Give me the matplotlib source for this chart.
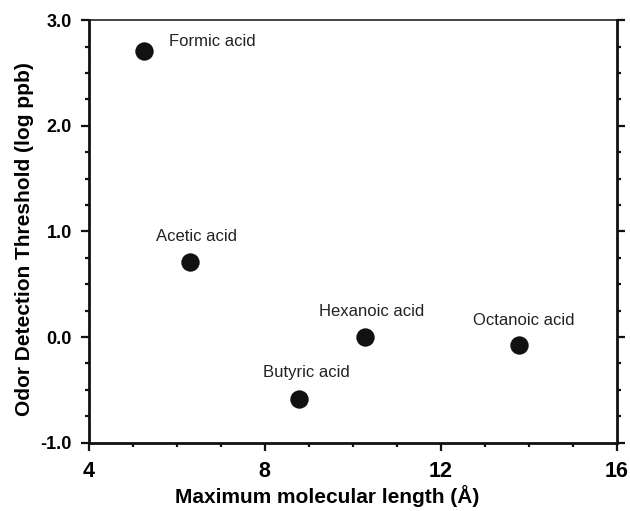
import matplotlib
matplotlib.use("Agg")
import matplotlib.pyplot as plt
from matplotlib.ticker import MultipleLocator

plt.rcParams['font.family'] = ['Liberation Sans', 'DejaVu Sans']

# values
acids = ['Formic acid', 'Acetic acid', 'Butyric acid', 'Hexanoic acid', 'Octanoic acid']
length = [5.26, 6.30, 8.79, 10.28, 13.79]
odt = [2.71, 0.71, -0.59, 0.0, -0.075]
# label offsets in points (dx, dy) and alignment
offsets = [(18, 6.5), (5, 18.5), (5.3, 19), (5, 18.5), (3, 18)]
aligns = ['left', 'center', 'center', 'center', 'center']

fig = plt.figure(figsize=(6.3, 5.11), dpi=100)
ax = fig.add_axes([0.1408, 0.1337, 0.8378, 0.8266])

ax.scatter(length, odt, s=175, color='#111111', zorder=3, linewidths=0)
for name, x, y, off, ha in zip(acids, length, odt, offsets, aligns):
    ax.annotate(name, (x, y), xytext=off, textcoords='offset points',
                ha=ha, va='center', fontsize=12, color='#222222')

ax.set_xlim(4, 16)
ax.set_ylim(-1, 3)
ax.xaxis.set_major_locator(MultipleLocator(4))
ax.xaxis.set_minor_locator(MultipleLocator(1))
ax.yaxis.set_major_locator(MultipleLocator(1))
ax.yaxis.set_minor_locator(MultipleLocator(0.25))
ax.yaxis.set_major_formatter(plt.FuncFormatter(lambda v, p: '%.1f' % v))

ax.tick_params(axis='both', which='both', direction='out', width=1.6, color='#111111')
ax.tick_params(axis='both', which='major', length=6)
ax.tick_params(axis='both', which='minor', length=3)
ax.tick_params(axis='y', which='both', right=True, labelright=False)
ax.tick_params(axis='y', which='major', labelsize=13, pad=6)
ax.tick_params(axis='x', which='major', labelsize=15.5, pad=7.5)
for lab in ax.get_xticklabels() + ax.get_yticklabels():
    lab.set_fontweight('bold')

for side in ['left', 'bottom', 'right']:
    ax.spines[side].set_linewidth(2)
    ax.spines[side].set_color('#111111')
ax.spines['top'].set_linewidth(1.1)
ax.spines['top'].set_color('#111111')

ax.set_xlabel('Maximum molecular length (Å)', fontsize=15, fontweight='bold',
              labelpad=2, x=0.4515)
ax.set_ylabel('Odor Detection Threshold (log ppb)', fontsize=15, fontweight='bold',
              labelpad=5, y=0.482)

fig.savefig('out.png', dpi=100)
